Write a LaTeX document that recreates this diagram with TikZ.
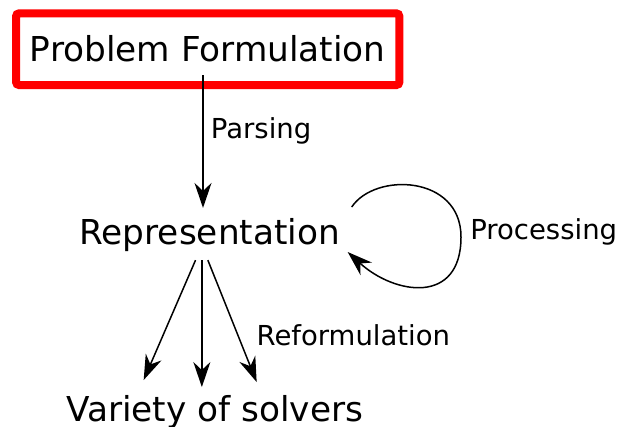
\documentclass[tikz,border=0pt]{standalone}
\usepackage{fontspec}
\setmainfont{DejaVu Sans}
\usetikzlibrary{arrows.meta,positioning}
\definecolor{framered}{RGB}{255,0,0}

\begin{document}
\begin{tikzpicture}[x=1pt, y=-1pt,
        flow/.style={-{Stealth[length=25pt, width=17pt, inset=8pt]}, line width=1.5pt},
        title/.style={font=\fontsize{34.3}{41}\selectfont, inner sep=0pt, outer sep=0pt},
        label/.style={font=\fontsize{27.5}{32}\selectfont, inner sep=0pt, anchor=base west}]
        \useasboundingbox (0,0) rectangle (620,427);

        \node[title, draw=framered, line width=8pt, rounded corners=3pt, minimum width=383.3pt, minimum height=71.7pt] (problem) at (207.7,49.2) {Problem Formulation};

        \node[title, anchor=base west] (repr) at (79.4,245) {Representation};

        \node[title, anchor=base west] (solvers) at (66.3,421) {Variety of solvers};

        \node[label] (parsing) at (210.7,138.5) {Parsing};
        \node[label] (processing) at (470.1,239.5) {Processing};
        \node[label] (reform) at (256.4,345) {Reformulation};

        \coordinate (parsetop) at ([xshift=-4.7pt, yshift=10pt]problem.south);
        \draw[flow, shorten >=11pt] (parsetop) -- (parsetop |- repr.north);

        \draw[flow] ([xshift=11.8pt, yshift=28.5pt]repr.east) .. controls (375,172) and (461,175) .. (461,237)
                .. controls (461,305) and (395,295) .. ([xshift=7.8pt, yshift=-16.5pt]repr.east);

        \coordinate (midtop) at ([xshift=-7.8pt, yshift=-8pt]repr.south);
        \draw[flow] ([xshift=-14.1pt, yshift=-8pt]repr.south) -- ([xshift=-71.1pt, yshift=14.9pt]solvers.north);
        \draw[flow, shorten >=7.9pt] (midtop) -- (midtop |- solvers.north);
        \draw[flow] ([xshift=-1.8pt, yshift=-8pt]repr.south) -- ([xshift=41.9pt, yshift=12.9pt]solvers.north);
    \end{tikzpicture}
\end{document}
